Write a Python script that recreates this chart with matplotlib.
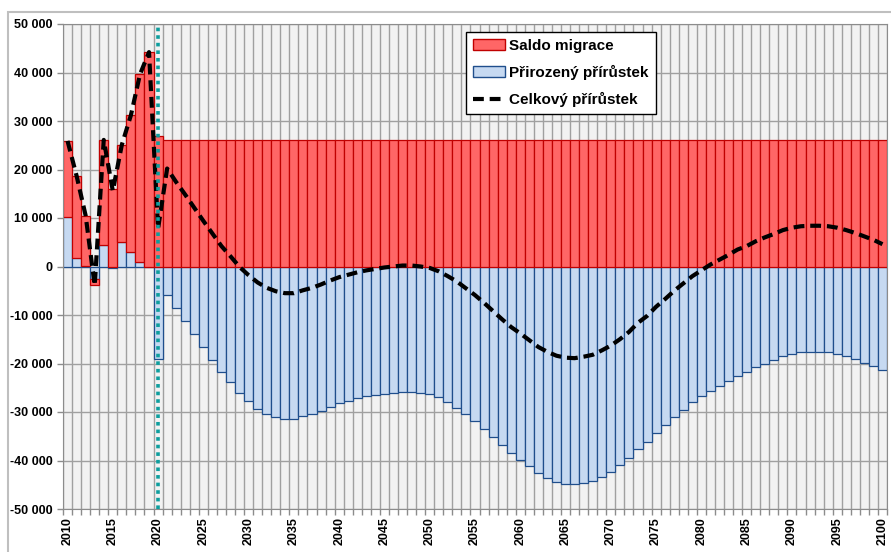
import numpy as np
import matplotlib.pyplot as plt
from matplotlib.patches import Patch, Rectangle
from matplotlib.lines import Line2D

plt.rcParams['font.family'] = ['Liberation Sans', 'DejaVu Sans']
plt.rcParams['font.weight'] = 'bold'

# data (thousands of persons)
years = np.arange(2010, 2101)
natural_k = [
    10.3, 1.8, 0.2, -2.6, 4.4, -0.4, 5.0, 2.9, 1.0, -0.1, -19.1,
    -5.8, -8.6, -11.2, -13.9, -16.6, -19.2, -21.8, -23.9, -26.1, -27.8,
    -29.3, -30.4, -31.1, -31.5, -31.5, -30.9, -30.4, -29.7, -28.9, -28.2,
    -27.7, -27.2, -26.8, -26.5, -26.2, -26.0, -25.8, -25.8, -26.0, -26.3,
    -27.0, -28.0, -29.1, -30.5, -31.9, -33.5, -35.2, -36.9, -38.5, -39.8,
    -41.2, -42.6, -43.6, -44.4, -44.8, -44.9, -44.6, -44.2, -43.3, -42.3,
    -41.0, -39.5, -37.6, -36.2, -34.3, -32.7, -31.0, -29.5, -28.0, -26.8,
    -25.6, -24.6, -23.6, -22.5, -21.8, -20.8, -20.0, -19.3, -18.5, -18.0,
    -17.7, -17.6, -17.6, -17.7, -18.0, -18.5, -19.1, -19.8, -20.5, -21.4,
]
migration_k = [15.6, 16.9, 10.3, -1.3, 21.7, 16.0, 20.1, 28.3, 38.6, 44.3, 26.9] + [26.0] * 80

labels = ['Saldo migrace', 'Přirozený přírůstek', 'Celkový přírůstek']

natural = np.array(natural_k) * 1000
migration = np.array(migration_k) * 1000
total = natural + migration
# Excel stacks positive and negative parts separately
mig_bottom = np.where(migration >= 0, np.maximum(natural, 0), np.minimum(natural, 0))

fig = plt.figure(figsize=(8.91, 5.52), dpi=100)
ax = fig.add_axes([63 / 891, 43 / 552, 824 / 891, 485 / 552])
ax.set_facecolor('#F2F2F2')

red, red_edge = '#FF6666', '#C00000'
blue, blue_edge = '#C6D9F1', '#1F4E8C'

ax.bar(years, natural, width=1.0, color=blue, edgecolor=blue_edge, linewidth=0.9, zorder=2)
ax.bar(years, migration, bottom=mig_bottom, width=1.0, color=red, edgecolor=red_edge,
       linewidth=0.9, zorder=2)

dash = (0, (2.6, 1.4))
ax.plot(years, total, color='black', lw=3.0, ls=dash, zorder=3)
ax.axvline(2020, color='#0E9E9E', lw=2.6, ls=(0, (1, 1.1)), zorder=4)

ax.set_xlim(2009.5, 2100.5)
ax.set_ylim(-50000, 50000)

ax.set_yticks(np.arange(-50000, 50001, 10000))
ax.set_yticklabels([f'{v:,}'.replace(',', ' ') for v in range(-50000, 50001, 10000)])
ax.set_xticks(np.arange(2010, 2101, 5))
ax.set_xticklabels([str(y) for y in range(2010, 2101, 5)], rotation=90)
ax.set_xticks(np.arange(2009.5, 2101, 1), minor=True)

ax.tick_params(axis='y', labelsize=9, length=4, color='#8C8C8C', width=1)
ax.tick_params(axis='x', which='major', labelsize=9, length=0, pad=6)
ax.tick_params(axis='x', which='minor', length=4, color='#8C8C8C', width=1)

grid_c = '#A0A0A0'
ax.grid(axis='y', which='major', color=grid_c, lw=1)
ax.grid(axis='x', which='minor', color=grid_c, lw=1)
ax.set_axisbelow(True)
for s in ax.spines.values():
    s.set_color('#8C8C8C')

handles = [
    Patch(facecolor=red, edgecolor=red_edge, linewidth=1),
    Patch(facecolor=blue, edgecolor=blue_edge, linewidth=1),
    Line2D([], [], color='black', lw=3.0, ls=dash),
]
leg = ax.legend(handles, labels, loc='upper left', bbox_to_anchor=(0.489, 0.983),
                borderaxespad=0, fontsize=11, handlelength=2.1, handletextpad=0.3,
                labelspacing=0.78, borderpad=0.45, fancybox=False, framealpha=1,
                edgecolor='black')
leg.get_frame().set_linewidth(1)

# outer chart frame
fig.patches.append(Rectangle((8 / 891, -0.1), 1.2, 1 - 12 / 552 + 0.1, transform=fig.transFigure,
                             fill=False, edgecolor='#BFBFBF', lw=1.5))

fig.savefig('out.png', dpi=100)
